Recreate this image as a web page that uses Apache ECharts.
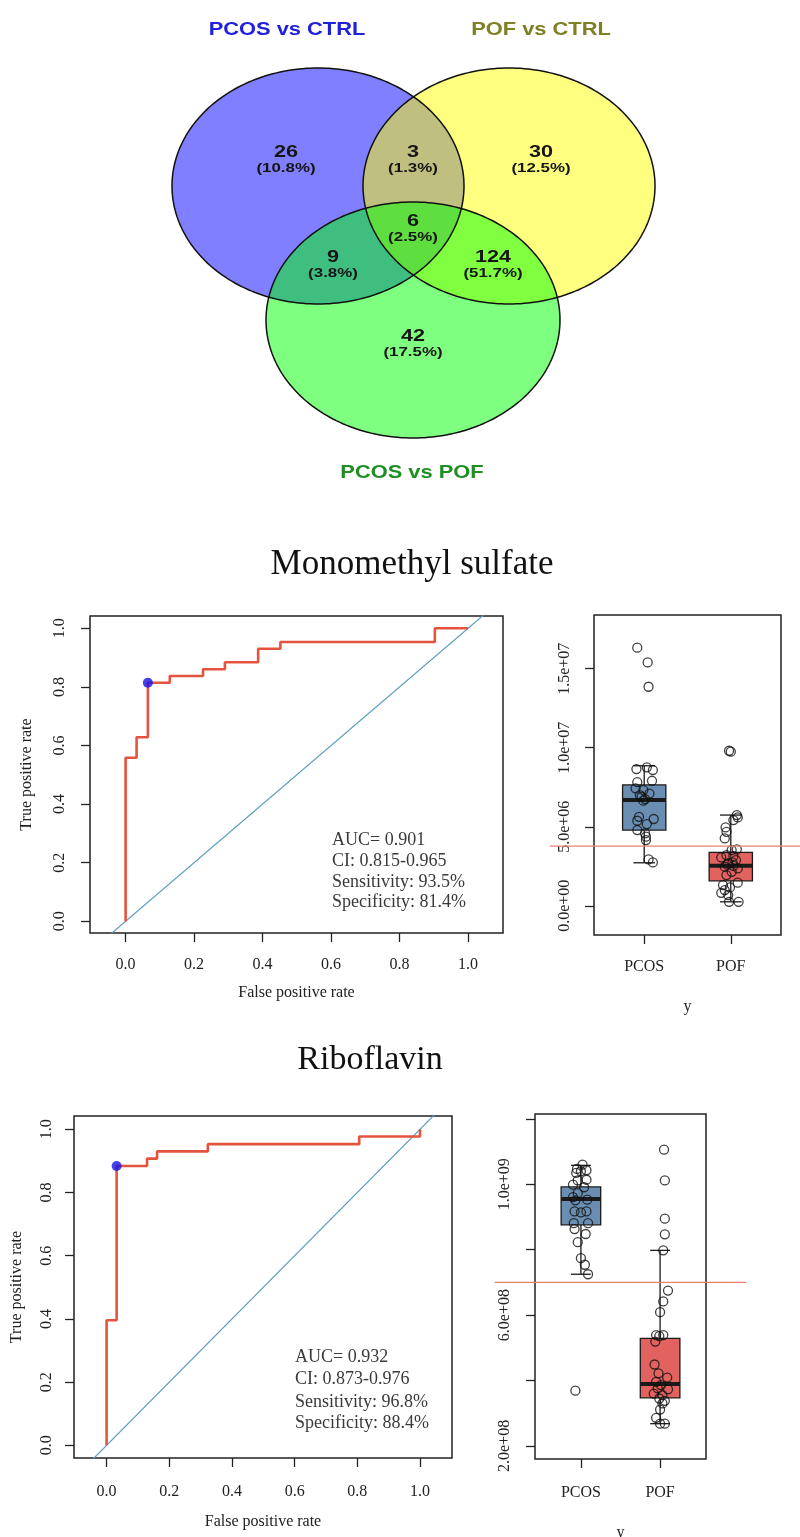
<!DOCTYPE html>
<html><head><meta charset="utf-8">
<script src="https://cdn.jsdelivr.net/npm/echarts@6/dist/echarts.min.js"></script>
<style>html,body{margin:0;padding:0;background:#fff}#c{width:800px;height:1537px}</style>
</head><body><div id="c"></div>
<script>
// ---------------- DATA ----------------
// Venn
const vennSetNames = ['PCOS vs CTRL', 'POF vs CTRL', 'PCOS vs POF'];
const vennCounts = [26, 3, 30, 6, 9, 124, 42];
const vennPercents = ['(10.8%)', '(1.3%)', '(12.5%)', '(2.5%)', '(3.8%)', '(51.7%)', '(17.5%)'];

// ROC 1 : Monomethyl sulfate
const roc1Fpr = [0, 0, 0.032, 0.032, 0.065, 0.065, 0.129, 0.129, 0.226, 0.226, 0.290, 0.290, 0.387, 0.387, 0.452, 0.452, 0.903, 0.903, 1.0];
const roc1Tpr = [0, 0.558, 0.558, 0.628, 0.628, 0.814, 0.814, 0.837, 0.837, 0.860, 0.860, 0.884, 0.884, 0.930, 0.930, 0.953, 0.953, 1.0, 1.0];
const roc1Best = [0.065, 0.814];
const roc1Text = ['AUC= 0.901', 'CI: 0.815-0.965', 'Sensitivity: 93.5%', 'Specificity: 81.4%'];

// ROC 2 : Riboflavin
const roc2Fpr = [0, 0, 0.032, 0.032, 0.129, 0.129, 0.161, 0.161, 0.323, 0.323, 0.806, 0.806, 1.0, 1.0];
const roc2Tpr = [0, 0.396, 0.396, 0.884, 0.884, 0.907, 0.907, 0.930, 0.930, 0.953, 0.953, 0.977, 0.977, 1.0];
const roc2Best = [0.032, 0.884];
const roc2Text = ['AUC= 0.932', 'CI: 0.873-0.976', 'Sensitivity: 96.8%', 'Specificity: 88.4%'];

const rocTicks = [0, 0.2, 0.4, 0.6, 0.8, 1.0];
const groups = ['PCOS', 'POF'];
const chartTitles = ['Monomethyl sulfate', 'Riboflavin'];

// Boxplot 1 : [low whisker, Q1, median, Q3, high whisker]
const box1Stats = [[2.72e6, 4.79e6, 6.70e6, 7.65e6, 8.86e6], [0.25e6, 1.58e6, 2.53e6, 3.38e6, 5.74e6]];
const box1Threshold = 3.78e6;
const box1Ticks = [0, 5e6, 1e7, 1.5e7];
const box1PcosX = [0.92, 1.04, 1.05, 0.91, 1.03, 1.10, 0.92, 1.09, 0.90, 0.99, 0.95, 1.01, 0.99, 0.94, 1.11, 0.92, 1.03, 0.92, 1.01, 1.02, 1.02, 1.05, 1.10, 0.97, 1.06];
const box1PcosY = [16.33e6, 15.40e6, 13.86e6, 8.65e6, 8.76e6, 8.59e6, 7.82e6, 7.91e6, 7.43e6, 7.32e6, 7.00e6, 6.75e6, 6.65e6, 5.63e6, 5.49e6, 5.38e6, 5.17e6, 4.79e6, 4.58e6, 4.37e6, 4.16e6, 2.93e6, 2.74e6, 6.90e6, 7.10e6];
const box1PofX = [1.98, 2.00, 2.07, 2.08, 2.03, 1.94, 1.95, 1.93, 2.01, 2.07, 1.95, 2.03, 1.89, 2.06, 1.97, 2.03, 1.93, 2.08, 2.01, 1.95, 2.08, 1.91, 1.99, 1.93, 1.89, 1.97, 1.98, 2.09, 2.02, 1.96];
const box1PofY = [9.81e6, 9.75e6, 5.74e6, 5.59e6, 5.42e6, 4.96e6, 4.68e6, 4.26e6, 3.52e6, 3.57e6, 3.21e6, 3.14e6, 3.06e6, 2.89e6, 2.68e6, 2.53e6, 2.47e6, 2.36e6, 2.15e6, 1.94e6, 1.46e6, 1.31e6, 1.16e6, 0.99e6, 0.82e6, 0.68e6, 0.25e6, 0.25e6, 2.75e6, 2.60e6];

// Boxplot 2
const box2Stats = [[7.25e8, 8.76e8, 9.55e8, 9.92e8, 10.58e8], [2.68e8, 3.47e8, 3.89e8, 5.29e8, 7.98e8]];
const box2Threshold = 7.0e8;
const box2Ticks = [2e8, 4e8, 6e8, 8e8, 1e9, 1.2e9];
const box2LabelTicks = [2e8, 6e8, 1e9];
const box2PcosX = [1.02, 0.95, 1.07, 1.00, 0.94, 1.07, 0.96, 0.90, 1.04, 0.96, 0.90, 1.08, 0.93, 0.92, 1.00, 1.07, 0.91, 1.09, 0.92, 1.06, 0.96, 1.00, 1.05, 1.09, 0.93];
const box2PcosY = [10.60e8, 10.47e8, 10.43e8, 10.40e8, 10.35e8, 10.14e8, 10.12e8, 9.99e8, 9.91e8, 9.73e8, 9.61e8, 9.53e8, 9.51e8, 9.17e8, 9.14e8, 9.17e8, 8.81e8, 8.81e8, 8.63e8, 8.48e8, 8.23e8, 7.74e8, 7.54e8, 7.25e8, 3.69e8];
const box2PofX = [2.05, 2.06, 2.06, 2.06, 2.04, 2.10, 2.04, 2.00, 1.95, 1.99, 2.04, 1.94, 1.93, 1.98, 2.09, 1.95, 2.01, 1.97, 2.10, 1.92, 2.03, 1.99, 2.06, 2.03, 2.00, 1.95, 2.00, 2.06];
const box2PofY = [11.06e8, 10.12e8, 8.95e8, 8.47e8, 7.98e8, 6.75e8, 6.42e8, 6.09e8, 5.39e8, 5.36e8, 5.39e8, 5.19e8, 4.49e8, 4.22e8, 4.09e8, 3.96e8, 3.86e8, 3.76e8, 3.73e8, 3.60e8, 3.55e8, 3.45e8, 3.38e8, 3.30e8, 3.11e8, 2.86e8, 2.68e8, 2.68e8];

// ---------------- LAYOUT / STYLE ----------------
const serif = "'Liberation Serif','Times New Roman',serif";
const sans = "'Liberation Sans',Arial,sans-serif";
const vennLayout = {
  ellipses: [[318, 186, 146, 118], [509, 186, 146, 118], [413, 320, 147, 118]],
  fills: ['rgba(0,0,255,0.5)', 'rgba(255,255,0,0.5)', 'rgba(0,255,0,0.5)'],
  titleColors: ['#2121dc', '#7f7f24', '#1f8f24'],
  titlePos: [[287, 30], [541, 30], [412, 473]],
  countPos: [[286, 153], [413, 153], [541, 153], [413, 222], [333, 258], [493, 258], [413, 337]]
};
const boxColors = ['#6a8eb2', '#e2625f'];
const thresholdSpan = [-0.09, 3.09]; // x extent of the cut-off line (axis units, reaches beyond the frame)

const zip = (a, b) => a.map((v, i) => [v, b[i]]);
function expFmt(v) {
  const m = v.toExponential(1).match(/^(-?[\d.]+)e([+-])(\d+)$/);
  return m[1] + 'e' + m[2] + (m[3].length < 2 ? '0' + m[3] : m[3]);
}
const tickStyle = { show: true, length: 9, lineStyle: { color: '#222', width: 1.3 } };
const labelBase = { color: '#222', fontFamily: serif, fontSize: 16 };
const nameStyle = { color: '#222', fontFamily: serif, fontSize: 16 };
const hiddenLine = { show: false, onZero: false };

function rocX(gi, margin, gap) {
  return { type: 'value', gridIndex: gi, min: -0.104, max: 1.102,
    axisLine: hiddenLine, splitLine: { show: false },
    axisTick: Object.assign({ customValues: rocTicks }, tickStyle),
    axisLabel: Object.assign({ customValues: rocTicks, formatter: v => v.toFixed(1), margin }, labelBase),
    name: 'False positive rate', nameLocation: 'middle', nameGap: gap, nameTextStyle: nameStyle };
}
function rocY(gi, margin, gap) {
  return { type: 'value', gridIndex: gi, min: -0.04, max: 1.042,
    axisLine: hiddenLine, splitLine: { show: false },
    axisTick: Object.assign({ customValues: rocTicks }, tickStyle),
    axisLabel: Object.assign({ customValues: rocTicks, formatter: v => v.toFixed(1), margin, rotate: 90 }, labelBase),
    name: 'True positive rate', nameLocation: 'middle', nameGap: gap, nameTextStyle: nameStyle };
}
function boxX(gi, margin, gap) {
  return { type: 'value', gridIndex: gi, min: 0.42, max: 2.58,
    axisLine: hiddenLine, splitLine: { show: false },
    axisTick: Object.assign({ customValues: [1, 2] }, tickStyle),
    axisLabel: Object.assign({ customValues: [1, 2], formatter: v => groups[Math.round(v) - 1], margin }, labelBase),
    name: 'y', nameLocation: 'middle', nameGap: gap, nameTextStyle: nameStyle };
}
function boxY(gi, min, max, ticks, labelTicks, margin) {
  return { type: 'value', gridIndex: gi, min, max,
    axisLine: hiddenLine, splitLine: { show: false },
    axisTick: Object.assign({ customValues: ticks }, tickStyle),
    axisLabel: Object.assign({ customValues: labelTicks, formatter: v => expFmt(v), margin, rotate: 90 }, labelBase) };
}
const gridFrame = { show: true, borderColor: '#222', borderWidth: 1.5, backgroundColor: 'transparent', containLabel: false, outerBoundsMode: 'none' };

function rocSeries(ai, fpr, tpr, best) {
  return [
    { type: 'line', xAxisIndex: ai, yAxisIndex: ai, data: [[-0.2, -0.2], [1.2, 1.2]], symbol: 'none', clip: true,
      lineStyle: { color: '#5d9cc2', width: 1.2 }, silent: true, z: 2 },
    { type: 'line', xAxisIndex: ai, yAxisIndex: ai, data: zip(fpr, tpr), symbol: 'none', clip: true,
      lineStyle: { color: '#e4533e', width: 2.6 }, silent: true, z: 3 },
    { type: 'scatter', xAxisIndex: ai, yAxisIndex: ai, data: [best], symbolSize: 10,
      itemStyle: { color: '#1414e6' }, silent: true, z: 4 }
  ];
}
function boxSeries(ai, stats, thr, pcosX, pcosY, pofX, pofY) {
  return [
    { type: 'custom', xAxisIndex: ai, yAxisIndex: ai, silent: true, z: 2,
      data: stats.map((s, i) => [i + 1].concat(s)),
      renderItem: (params, api) => {
        const c = api.value(0), lo = api.value(1), q1 = api.value(2), md = api.value(3), q3 = api.value(4), hi = api.value(5);
        const hw = 0.25, cw = 0.125;
        const tl = api.coord([c - hw, q3]), br = api.coord([c + hw, q1]);
        const ln = (x1, y1, x2, y2, w) => ({ type: 'line', shape: { x1, y1, x2, y2 }, style: { stroke: '#1a1a1a', lineWidth: w } });
        const pMid = api.coord([c, md]), pHi = api.coord([c, hi]), pLo = api.coord([c, lo]);
        const pQ3 = api.coord([c, q3]), pQ1 = api.coord([c, q1]);
        const capL = api.coord([c - cw, md])[0], capR = api.coord([c + cw, md])[0];
        return { type: 'group', children: [
          ln(pHi[0], pHi[1], pQ3[0], pQ3[1], 1.3),
          ln(pLo[0], pLo[1], pQ1[0], pQ1[1], 1.3),
          ln(capL, pHi[1], capR, pHi[1], 1.3),
          ln(capL, pLo[1], capR, pLo[1], 1.3),
          { type: 'rect', shape: { x: tl[0], y: tl[1], width: br[0] - tl[0], height: br[1] - tl[1] },
            style: { fill: boxColors[params.dataIndex], stroke: '#1a1a1a', lineWidth: 1.3 } },
          ln(tl[0], pMid[1], br[0], pMid[1], 4)
        ] };
      } },
    { type: 'scatter', xAxisIndex: ai, yAxisIndex: ai, data: zip(pcosX, pcosY).concat(zip(pofX, pofY)),
      symbol: 'circle', symbolSize: 9, silent: true, z: 3,
      itemStyle: { color: 'rgba(0,0,0,0)', borderColor: '#111', borderWidth: 1.3 } },
    { type: 'custom', xAxisIndex: ai, yAxisIndex: ai, silent: true, z: 4, clip: false,
      data: [[1, thr]],
      renderItem: (params, api) => {
        const a = api.coord([thresholdSpan[0], api.value(1)]), b = api.coord([thresholdSpan[1], api.value(1)]);
        return { type: 'line', shape: { x1: a[0], y1: a[1], x2: b[0], y2: b[1] }, style: { stroke: '#e8806f', lineWidth: 1.3 } };
      } }
  ];
}

function ellipsePoints(api, e) {
  const pts = [];
  for (let k = 0; k < 240; k++) { const t = k / 240 * 2 * Math.PI; pts.push(api.coord([e[0] + e[2] * Math.cos(t), e[1] + e[3] * Math.sin(t)])); }
  return pts;
}
const vennSeries = [
  { type: 'custom', xAxisIndex: 0, yAxisIndex: 0, silent: true, z: 1,
    data: vennSetNames.map((n, i) => [i]),
    renderItem: (params, api) => ({ type: 'polygon', shape: { points: ellipsePoints(api, vennLayout.ellipses[params.dataIndex]) },
      style: { fill: vennLayout.fills[params.dataIndex], stroke: null } }) },
  { type: 'custom', xAxisIndex: 0, yAxisIndex: 0, silent: true, z: 2,
    data: vennSetNames.map((n, i) => [i]),
    renderItem: (params, api) => ({ type: 'polygon', shape: { points: ellipsePoints(api, vennLayout.ellipses[params.dataIndex]) },
      style: { fill: null, stroke: '#111', lineWidth: 1.5 } }) },
  { type: 'custom', xAxisIndex: 0, yAxisIndex: 0, silent: true, z: 3,
    data: vennCounts.map((c, i) => [i]),
    renderItem: (params, api) => {
      const i = params.dataIndex;
      const p = api.coord(vennLayout.countPos[i]);
      const q = api.coord([vennLayout.countPos[i][0], vennLayout.countPos[i][1] + 15]);
      return { type: 'group', children: [
        { type: 'text', x: p[0], y: p[1], scaleX: 1.35, style: { text: String(vennCounts[i]), x: 0, y: 0, align: 'center', verticalAlign: 'middle', font: `bold 16px ${sans}`, fill: '#151515' } },
        { type: 'text', x: q[0], y: q[1], scaleX: 1.3, style: { text: vennPercents[i], x: 0, y: 0, align: 'center', verticalAlign: 'middle', font: `bold 13px ${sans}`, fill: '#151515' } }
      ] };
    } },
  { type: 'custom', xAxisIndex: 0, yAxisIndex: 0, silent: true, z: 3,
    data: vennSetNames.map((n, i) => [i]),
    renderItem: (params, api) => {
      const i = params.dataIndex;
      const p = api.coord(vennLayout.titlePos[i]);
      return { type: 'text', x: p[0], y: p[1], scaleX: 1.15, style: { text: vennSetNames[i], x: 0, y: 0, align: 'center', verticalAlign: 'middle', font: `bold 19px ${sans}`, fill: vennLayout.titleColors[i] } };
    } }
];

function annot(lines, x, ys) {
  return lines.map((t, i) => ({ type: 'text', x, y: ys[i], silent: true,
    style: { text: t, font: `18px ${serif}`, fill: '#3a3a3a', align: 'left', verticalAlign: 'middle' } }));
}

const option = {
  animation: false,
  backgroundColor: '#ffffff',
  grid: [
    { left: 0, top: 0, width: 800, height: 500, show: false, containLabel: false, outerBoundsMode: 'none' },
    Object.assign({ left: 90, top: 616, width: 413, height: 317 }, gridFrame),
    Object.assign({ left: 594, top: 615, width: 187, height: 320 }, gridFrame),
    Object.assign({ left: 74, top: 1116, width: 378, height: 342 }, gridFrame),
    Object.assign({ left: 535, top: 1114, width: 171, height: 345 }, gridFrame)
  ],
  xAxis: [
    { type: 'value', gridIndex: 0, min: 0, max: 800, show: false },
    rocX(1, 24, 52),
    boxX(2, 24, 64),
    rocX(3, 26, 56),
    boxX(4, 26, 66)
  ],
  yAxis: [
    { type: 'value', gridIndex: 0, min: 0, max: 500, inverse: true, show: false },
    rocY(1, 22, 55),
    boxY(2, -1.85e6, 18.4e6, box1Ticks, box1Ticks, 21),
    rocY(3, 19, 49),
    boxY(4, 1.6e8, 1.215e9, box2Ticks, box2LabelTicks, 22)
  ],
  graphic: [
    { type: 'text', x: 412, y: 565, silent: true, style: { text: chartTitles[0], font: `35px ${serif}`, fill: '#111', align: 'center', verticalAlign: 'middle' } },
    { type: 'text', x: 370, y: 1060, silent: true, style: { text: chartTitles[1], font: `34px ${serif}`, fill: '#111', align: 'center', verticalAlign: 'middle' } }
  ].concat(annot(roc1Text, 332, [840, 861, 882, 902]), annot(roc2Text, 295, [1357, 1379, 1402, 1423])),
  series: [].concat(
    vennSeries,
    rocSeries(1, roc1Fpr, roc1Tpr, roc1Best),
    boxSeries(2, box1Stats, box1Threshold, box1PcosX, box1PcosY, box1PofX, box1PofY),
    rocSeries(3, roc2Fpr, roc2Tpr, roc2Best),
    boxSeries(4, box2Stats, box2Threshold, box2PcosX, box2PcosY, box2PofX, box2PofY)
  )
};
const chart = echarts.init(document.getElementById('c'), null, { renderer: 'canvas', width: 800, height: 1537 });
chart.setOption(option);
</script></body></html>
